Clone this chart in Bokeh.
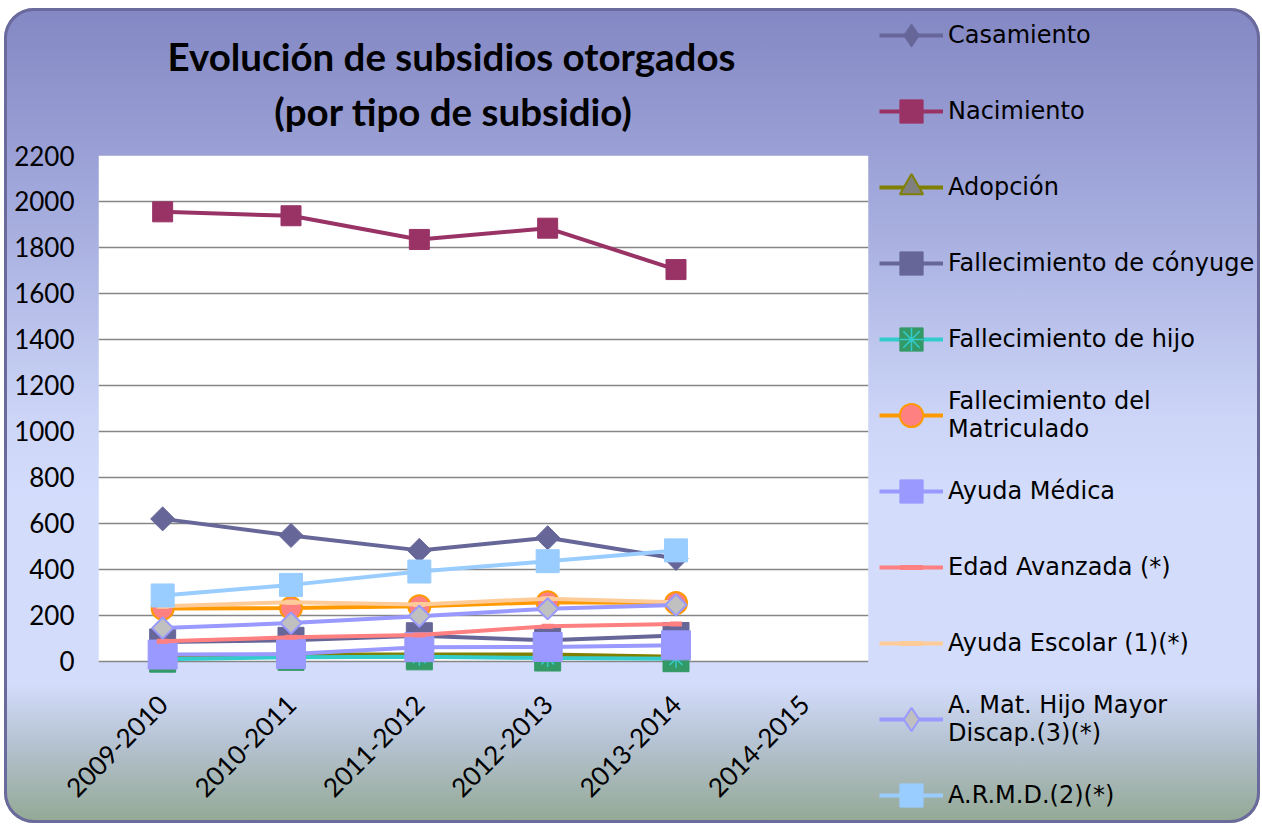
import math
from bokeh.plotting import figure
from bokeh.layouts import row, column
from bokeh.models import (Range1d, FactorRange, SingleIntervalTicker, Legend, LegendItem,
                          Label, InlineStyleSheet, ColumnDataSource, BoxAnnotation)
from bokeh.embed import file_html
from bokeh.resources import INLINE

categories = ["2009-2010", "2010-2011", "2011-2012", "2012-2013", "2013-2014", "2014-2015"]
years = ["2009-2010", "2010-2011", "2011-2012", "2012-2013", "2013-2014"]

casamiento = [620, 548, 483, 538, 448]
nacimiento = [1955, 1938, 1835, 1884, 1704]
adopcion = [25, 30, 30, 30, 20]
fall_conyuge = [85, 92, 112, 92, 113]
fall_hijo = [10, 18, 20, 15, 12]
fall_matriculado = [230, 232, 240, 258, 254]
ayuda_medica = [30, 32, 62, 63, 70]
edad_avanzada = [88, 105, 115, 153, 163]
ayuda_escolar = [240, 258, 248, 273, 258]
hijo_mayor = [145, 167, 197, 229, 246]
armd = [287, 333, 391, 436, 483]

title_lines = ["Evolución de subsidios otorgados", "(por tipo de subsidio)"]

css = """
:host {
  margin: 8px 0 0 4px;
  background: linear-gradient(180deg, #8387c3 0%, #a4abdd 25%, #ccd5f7 50%, #d3dcfb 60%, #d3dcfb 83%, #b6c3d3 90%, #93a893 100%);
  border-radius: 30px;
  box-shadow: inset 0 0 0 3px #6a6b9c;
}
"""

H = 815
TOP = 132
PAD_TOP = 15
W_MAIN = 874

# title strip
t = figure(width=W_MAIN, height=TOP, x_range=Range1d(0, 1), y_range=Range1d(0, 1),
           output_backend="svg", toolbar_location=None,
           min_border_left=94, min_border_right=10, min_border_top=0, min_border_bottom=0,
           x_axis_type=None, y_axis_type=None, title=None)
t.border_fill_color = None
t.background_fill_color = None
t.outline_line_color = None
t.grid.visible = False
for txt, xx, yy in [(title_lines[0], 353, 85), (title_lines[1], 355, 30)]:
    t.add_layout(Label(x=xx, y=yy, x_units="screen", y_units="screen", text=txt,
                       text_align="center", text_baseline="middle",
                       text_font="Lato", text_font_style="bold", text_font_size="38.5px",
                       text_color="black"))

p = figure(width=W_MAIN, height=H - TOP,
           x_range=FactorRange(factors=categories, range_padding=0),
           y_range=Range1d(-61, 2200),
           output_backend="svg", toolbar_location=None, title=None,
           min_border_left=94, min_border_right=10,
           min_border_top=PAD_TOP, min_border_bottom=H - TOP - PAD_TOP - 520)
p.border_fill_color = None
p.background_fill_color = None
p.outline_line_color = None
p.add_layout(BoxAnnotation(bottom=0, top=2200, fill_color="white", fill_alpha=1,
                           line_color=None, level="image"))

p.yaxis.ticker = SingleIntervalTicker(interval=200)
p.yaxis.axis_line_color = None
p.yaxis.major_tick_line_color = None
p.yaxis.minor_tick_line_color = None
p.yaxis.major_tick_out = 0
p.yaxis.major_tick_in = 0
p.yaxis.major_label_standoff = 20
p.yaxis.major_label_text_font = "Lato"
p.yaxis.major_label_text_font_size = "26px"
p.yaxis.major_label_text_color = "black"

p.xaxis.axis_line_color = None
p.xaxis.major_tick_line_color = None
p.xaxis.minor_tick_line_color = None
p.xaxis.major_tick_out = 0
p.xaxis.major_tick_in = 0
p.xaxis.major_label_orientation = math.pi / 4
p.xaxis.major_label_standoff = 24
p.xaxis.major_label_text_font = "Lato"
p.xaxis.major_label_text_font_size = "26px"
p.xaxis.major_label_text_color = "black"

p.ygrid.grid_line_color = "#868686"
p.ygrid.grid_line_width = 1.5
p.xgrid.grid_line_color = None

# legend figure (its frame covers the whole figure; proxy glyphs lie outside its ranges)
q = figure(width=382, height=H, x_range=Range1d(0, 1), y_range=Range1d(0, 1),
           output_backend="svg", toolbar_location=None, min_border=0,
           x_axis_type=None, y_axis_type=None, title=None)
q.border_fill_color = None
q.background_fill_color = None
q.outline_line_color = None
q.grid.visible = False

LW = 4
items = []
hidden = ColumnDataSource(dict(x=[-5, -4], y=[-5, -4]))

def src(vals):
    return ColumnDataSource(dict(x=years, y=vals))

def leg(label, line_kw, marks):
    rs = [q.line("x", "y", source=hidden, line_width=LW, **line_kw)]
    for mk in marks:
        rs.append(q.scatter("x", "y", source=hidden, **mk))
    items.append(LegendItem(label=label, renderers=rs))

# Casamiento
s = src(casamiento)
p.line("x", "y", source=s, line_color="#666699", line_width=LW)
p.scatter("x", "y", source=s, marker="square", angle=math.pi / 4, size=17,
          fill_color="#666699", line_color="#666699")
leg("Casamiento", dict(line_color="#666699"),
    [dict(marker="diamond", fill_color="#666699", line_color="#666699")])

# Nacimiento
s = src(nacimiento)
p.line("x", "y", source=s, line_color="#993366", line_width=LW)
p.scatter("x", "y", source=s, marker="square", size=20, fill_color="#993366", line_color="#993366")
leg("Nacimiento", dict(line_color="#993366"),
    [dict(marker="square", fill_color="#993366", line_color="#993366")])

# Adopcion
s = src(adopcion)
p.line("x", "y", source=s, line_color="#808000", line_width=LW)
p.scatter("x", "y", source=s, marker="triangle", size=20, fill_color="#808080",
          line_color="#808000", line_width=2)
leg("Adopción", dict(line_color="#808000"),
    [dict(marker="triangle", fill_color="#808080", line_color="#808000", line_width=2)])

# Fallecimiento de conyuge
s = src(fall_conyuge)
p.line("x", "y", source=s, line_color="#666699", line_width=LW)
p.scatter("x", "y", source=s, marker="square", size=26, fill_color="#666699", line_color="#666699")
leg("Fallecimiento de cónyuge", dict(line_color="#666699"),
    [dict(marker="square", fill_color="#666699", line_color="#666699")])

# Fallecimiento de hijo
s = src(fall_hijo)
p.line("x", "y", source=s, line_color="#33CCCC", line_width=LW)
p.scatter("x", "y", source=s, marker="square", size=26, fill_color="#339966", line_color="#339966")
p.scatter("x", "y", source=s, marker="asterisk", size=18, line_color="#33CCCC", line_width=1.5)
leg("Fallecimiento de hijo", dict(line_color="#33CCCC"),
    [dict(marker="square", fill_color="#339966", line_color="#339966"),
     dict(marker="asterisk", line_color="#33CCCC", line_width=1.5)])

# Fallecimiento del Matriculado
s = src(fall_matriculado)
p.line("x", "y", source=s, line_color="#FF9900", line_width=LW)
p.scatter("x", "y", source=s, marker="circle", size=22, fill_color="#FF8080",
          line_color="#FF9900", line_width=2)
leg("Fallecimiento del\nMatriculado", dict(line_color="#FF9900"),
    [dict(marker="circle", fill_color="#FF8080", line_color="#FF9900", line_width=2)])

# Ayuda Medica
s = src(ayuda_medica)
p.line("x", "y", source=s, line_color="#9999FF", line_width=LW)
p.scatter("x", "y", source=s, marker="square", size=29, fill_color="#9999FF", line_color="#9999FF")
leg("Ayuda Médica", dict(line_color="#9999FF"),
    [dict(marker="square", fill_color="#9999FF", line_color="#9999FF")])

# Edad Avanzada
s = src(edad_avanzada)
p.line("x", "y", source=s, line_color="#FF8080", line_width=LW)
p.scatter("x", "y", source=s, marker="dash", size=12, line_color="#FF8080", line_width=5)
leg("Edad Avanzada (*)", dict(line_color="#FF8080"),
    [dict(marker="dash", line_color="#FF8080", line_width=5)])

# Ayuda Escolar
s = src(ayuda_escolar)
p.line("x", "y", source=s, line_color="#FFCC99", line_width=LW)
p.scatter("x", "y", source=s, marker="dash", size=12, line_color="#FFCC99", line_width=5)
leg("Ayuda Escolar (1)(*)", dict(line_color="#FFCC99"),
    [dict(marker="dash", line_color="#FFCC99", line_width=5)])

# A. Mat. Hijo Mayor Discap.
s = src(hijo_mayor)
p.line("x", "y", source=s, line_color="#9999FF", line_width=LW)
p.scatter("x", "y", source=s, marker="square", angle=math.pi / 4, size=15,
          fill_color="#C0C0C0", line_color="#9999FF", line_width=2)
leg("A. Mat. Hijo Mayor\nDiscap.(3)(*)", dict(line_color="#9999FF"),
    [dict(marker="diamond", fill_color="#C0C0C0", line_color="#9999FF", line_width=2)])

# A.R.M.D.
s = src(armd)
p.line("x", "y", source=s, line_color="#99CCFF", line_width=LW)
p.scatter("x", "y", source=s, marker="square", size=23, fill_color="#99CCFF", line_color="#99CCFF")
leg("A.R.M.D.(2)(*)", dict(line_color="#99CCFF"),
    [dict(marker="square", fill_color="#99CCFF", line_color="#99CCFF")])

legend = Legend(items=items, location=(1, -1), orientation="vertical",
                glyph_width=64, glyph_height=58, label_height=58, spacing=18,
                label_standoff=5, padding=0, margin=0,
                background_fill_alpha=0, border_line_alpha=0,
                label_text_font="DejaVu Sans", label_text_font_size="24px",
                label_text_color="black", click_policy="none")
q.add_layout(legend)

layout = row(column(t, p), column(q))
layout.stylesheets = [InlineStyleSheet(css=css)]

open("out.html", "w").write(file_html(layout, INLINE))
